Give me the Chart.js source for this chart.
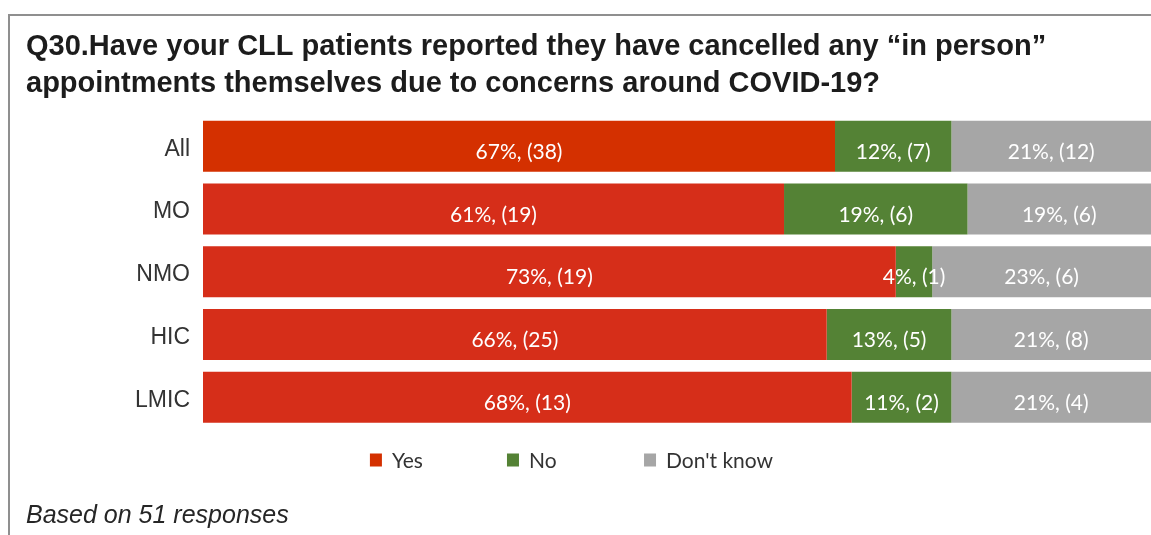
<!DOCTYPE html>
<html>
<head>
<meta charset="utf-8">
<script src="https://cdn.jsdelivr.net/npm/chart.js@4.4.1/dist/chart.umd.min.js"></script>
<style>
  html, body { margin: 0; padding: 0; background: #ffffff; }
  #wrap { width: 1151px; height: 535px; }
</style>
</head>
<body>
<div id="wrap"><canvas id="c" width="1151" height="535"></canvas></div>
<script>
// Survey answers per physician group (number of respondents)
const categories = ['All', 'MO', 'NMO', 'HIC', 'LMIC'];
const seriesNames = ['Yes', 'No', "Don't know"];
const yesCounts = [38, 19, 19, 25, 13];
const noCounts = [7, 6, 1, 5, 2];
const dontKnowCounts = [12, 6, 6, 8, 4];

const titleLines = [
  'Q30.Have your CLL patients reported they have cancelled any \u201cin person\u201d',
  'appointments themselves due to concerns around COVID-19?'
];
const footnote = 'Based on 51 responses';

// Each row is shown as a 100% stacked bar: share of the row total
const countsBySeries = [yesCounts, noCounts, dontKnowCounts];
const totals = categories.map((_, i) => yesCounts[i] + noCounts[i] + dontKnowCounts[i]);
const toShare = counts => counts.map((v, i) => v / totals[i] * 100);

const YES_ALL = '#D43000';
const YES = '#D62E19';
const NO = '#548235';
const DK = '#A6A6A6';
const seriesColors = [
  categories.map((_, i) => (i === 0 ? YES_ALL : YES)),
  NO,
  DK
];
const legendColors = [YES_ALL, NO, DK];

const SANS = "'Liberation Sans', Arial, sans-serif";
const LABEL_FONT = "Lato, 'Open Sans', sans-serif";
const PLOT_LEFT = 203;
const PAD_LEFT = 26;

// Grey frame along the top and left edges
const framePlugin = {
  id: 'frame',
  beforeDraw(chart) {
    const ctx = chart.ctx;
    ctx.save();
    ctx.fillStyle = '#ffffff';
    ctx.fillRect(0, 0, chart.width, chart.height);
    ctx.strokeStyle = '#8f8f8f';
    ctx.lineWidth = 2;
    ctx.beginPath();
    ctx.moveTo(9, chart.height);
    ctx.lineTo(9, 15);
    ctx.lineTo(chart.width, 15);
    ctx.stroke();
    ctx.restore();
  }
};

// "NN%, (n)" written in the middle of every segment
const barLabelPlugin = {
  id: 'barLabels',
  afterDatasetsDraw(chart) {
    const ctx = chart.ctx;
    ctx.save();
    ctx.font = '21px ' + LABEL_FONT;
    ctx.fillStyle = '#ffffff';
    ctx.textAlign = 'center';
    ctx.textBaseline = 'middle';
    chart.data.datasets.forEach((ds, di) => {
      const meta = chart.getDatasetMeta(di);
      meta.data.forEach((bar, i) => {
        const pct = Math.round(ds.data[i]);
        const text = pct + '%, (' + ds.counts[i] + ')';
        const cx = (bar.x + bar.base) / 2;
        ctx.fillText(text, cx, bar.y + 6);
      });
    });
    ctx.restore();
  }
};

// Legend row with equal-width entries, centred under the plot
const legendRowPlugin = {
  id: 'legendRow',
  afterDraw(chart) {
    const ctx = chart.ctx;
    ctx.save();
    ctx.font = '21px ' + LABEL_FONT;
    ctx.textBaseline = 'middle';
    ctx.textAlign = 'left';
    const box = 12, gap = 10;
    const widths = chart.data.datasets.map(ds => box + gap + ctx.measureText(ds.label).width);
    const slot = Math.max(...widths) + 8;
    const total = slot * widths.length;
    let x = chart.width / 2 - total / 2;
    const y = 460;
    chart.data.datasets.forEach((ds, di) => {
      ctx.fillStyle = legendColors[di];
      ctx.fillRect(x, y - 6.5, box, 13);
      ctx.fillStyle = '#333333';
      ctx.fillText(ds.label, x + box + gap, y + 1);
      x += slot;
    });
    ctx.restore();
  }
};

const datasets = seriesNames.map((name, si) => ({
  label: name,
  data: toShare(countsBySeries[si]),
  counts: countsBySeries[si],
  backgroundColor: seriesColors[si],
  borderWidth: 0,
  barPercentage: 0.813,
  categoryPercentage: 1
}));

new Chart(document.getElementById('c'), {
  type: 'bar',
  data: { labels: categories, datasets },
  plugins: [framePlugin, barLabelPlugin, legendRowPlugin],
  options: {
    indexAxis: 'y',
    responsive: false,
    animation: false,
    devicePixelRatio: 1,
    layout: { padding: { left: PAD_LEFT, right: 0, top: 0, bottom: 0 } },
    scales: {
      x: {
        stacked: true,
        display: false,
        min: 0,
        max: 100
      },
      y: {
        stacked: true,
        grid: { display: false, drawTicks: false },
        border: { display: false },
        ticks: {
          padding: 13,
          labelOffset: 3,
          color: '#333333',
          font: { family: SANS, size: 23 }
        },
        afterFit(scale) { scale.width = PLOT_LEFT - PAD_LEFT; }
      }
    },
    plugins: {
      legend: { display: false },
      tooltip: { enabled: false },
      title: {
        display: true,
        text: titleLines,
        align: 'start',
        color: '#1c1c1c',
        font: { family: SANS, size: 29, weight: 'bold', lineHeight: 37 / 29 },
        padding: { top: 28.5, bottom: 12.3 }
      },
      subtitle: {
        display: true,
        text: footnote,
        position: 'bottom',
        align: 'start',
        color: '#262626',
        font: { family: SANS, size: 25, style: 'italic', lineHeight: 1.2 },
        padding: { top: 72.6, bottom: 3.8 }
      }
    }
  }
});
</script>
</body>
</html>
